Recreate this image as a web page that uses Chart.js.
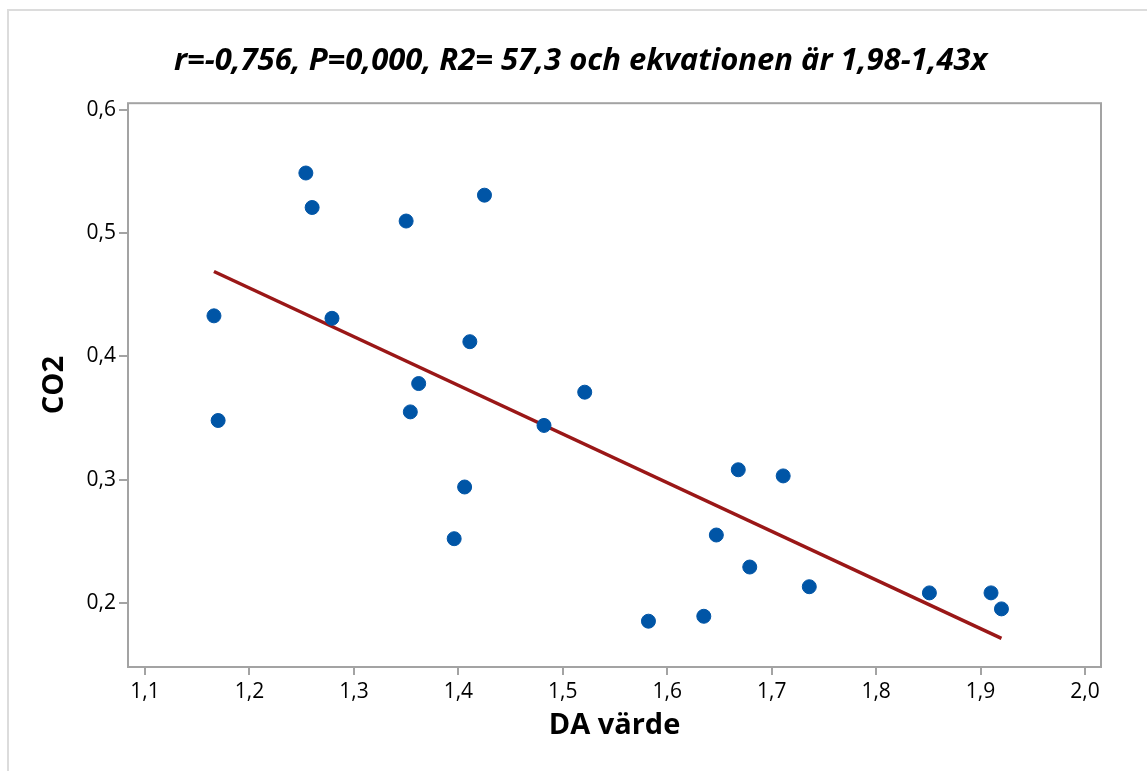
<!DOCTYPE html>
<html>
<head>
<meta charset="utf-8">
<script src="https://cdn.jsdelivr.net/npm/chart.js@4.4.1/dist/chart.umd.min.js"></script>
<style>
  html, body { margin: 0; padding: 0; background: #fff; }
  #wrap { position: relative; width: 1147px; height: 771px; overflow: hidden; }
  #frame { position: absolute; left: 7px; top: 9px; width: 1200px; height: 800px;
           border-left: 2px solid #dcdcdc; border-top: 2px solid #dcdcdc; }
  #canvas { position: absolute; left: 0; top: 0; }
</style>
</head>
<body>
<div id="wrap">
  <div id="frame"></div>
  <canvas id="canvas" width="1147" height="771"></canvas>
</div>
<script>
var daVarde = [1.254, 1.260, 1.425, 1.350, 1.166, 1.279, 1.411, 1.362, 1.170, 1.354, 1.482, 1.521,
               1.406, 1.396, 1.582, 1.635, 1.668, 1.647, 1.679, 1.711, 1.736, 1.851, 1.910, 1.920];
var co2 = [0.549, 0.521, 0.531, 0.510, 0.433, 0.431, 0.412, 0.378, 0.348, 0.355, 0.344, 0.371,
           0.294, 0.252, 0.185, 0.189, 0.308, 0.255, 0.229, 0.303, 0.213, 0.208, 0.208, 0.195];
// anpassad linje, start- och slutpunkt
var linjeX = [1.166, 1.920];
var linjeY = [0.469, 0.171];

var xTicks = [1.1, 1.2, 1.3, 1.4, 1.5, 1.6, 1.7, 1.8, 1.9, 2.0];
var yTicks = [0.2, 0.3, 0.4, 0.5, 0.6];

var rubrik = 'r=-0,756, P=0,000, R2= 57,3 och ekvationen är 1,98-1,43x';

var punkter = daVarde.map(function(x, i) { return { x: x, y: co2[i] }; });
var linje = linjeX.map(function(x, i) { return { x: x, y: linjeY[i] }; });

function komma(v) { return v.toFixed(1).replace('.', ','); }

var ram = {
  id: 'ram',
  afterDraw: function(chart) {
    var a = chart.chartArea, ctx = chart.ctx;
    ctx.save();
    ctx.strokeStyle = '#a3a3a3';
    ctx.lineWidth = 2;
    ctx.strokeRect(a.left, a.top, a.right - a.left, a.bottom - a.top);
    ctx.restore();
  }
};

var FONT = '"Open Sans", "Noto Sans", sans-serif';

var config = {
  type: 'scatter',
  data: {
    datasets: [{
      label: 'CO2',
      data: punkter,
      backgroundColor: '#0055a6',
      borderColor: '#0055a6',
      pointRadius: 7,
      pointHoverRadius: 7,
      order: 0
    }, {
      label: 'anpassning',
      data: linje,
      showLine: true,
      borderColor: '#9a1717',
      borderWidth: 3.5,
      pointRadius: 0,
      fill: false,
      order: 1
    }]
  },
  options: {
    responsive: false,
    animation: false,
    layout: { padding: { left: 14, right: 0, top: 0, bottom: 0 } },
    plugins: {
      legend: { display: false },
      tooltip: { enabled: false },
      title: {
        display: true,
        text: rubrik,
        color: '#000',
        font: { family: FONT, size: 31, weight: 'bold', style: 'italic' },
        padding: { top: 43, bottom: 23 }
      }
    },
    scales: {
      x: {
        type: 'linear',
        min: 1.0837,
        max: 2.0153,
        afterBuildTicks: function(s) { s.ticks = xTicks.map(function(v) { return { value: v }; }); },
        afterFit: function(s) { s.height = 104; },
        grid: { display: true, drawOnChartArea: false, drawTicks: true, tickLength: 8, color: '#a3a3a3', lineWidth: 2 },
        border: { display: false },
        ticks: { color: '#000', padding: 4, font: { family: FONT, size: 21 }, callback: komma, maxRotation: 0 },
        title: { display: true, text: 'DA värde', color: '#000', font: { family: FONT, size: 29, weight: 'bold' }, padding: { top: 0, bottom: 28 } }
      },
      y: {
        type: 'linear',
        min: 0.1478,
        max: 0.6057,
        afterBuildTicks: function(s) { s.ticks = yTicks.map(function(v) { return { value: v }; }); },
        afterFit: function(s) { s.width = 114; },
        grid: { display: true, drawOnChartArea: false, drawTicks: true, tickLength: 9, color: '#a3a3a3', lineWidth: 2 },
        border: { display: false },
        ticks: { color: '#000', padding: 3, font: { family: FONT, size: 21 }, callback: komma },
        title: { display: true, text: 'CO2', color: '#000', font: { family: FONT, size: 29, weight: 'bold' }, padding: { top: 23, bottom: 0 } }
      },
      // tom axel till höger, håller marginalen
      yHoger: {
        type: 'linear',
        position: 'right',
        display: true,
        grid: { display: false },
        border: { display: false },
        ticks: { display: false },
        afterFit: function(s) { s.width = 46; }
      }
    }
  },
  plugins: [ram]
};

window.onload = function() {
  var ctx = document.getElementById('canvas').getContext('2d');
  window.myScatter = new Chart(ctx, config);
};
</script>
</body>
</html>
